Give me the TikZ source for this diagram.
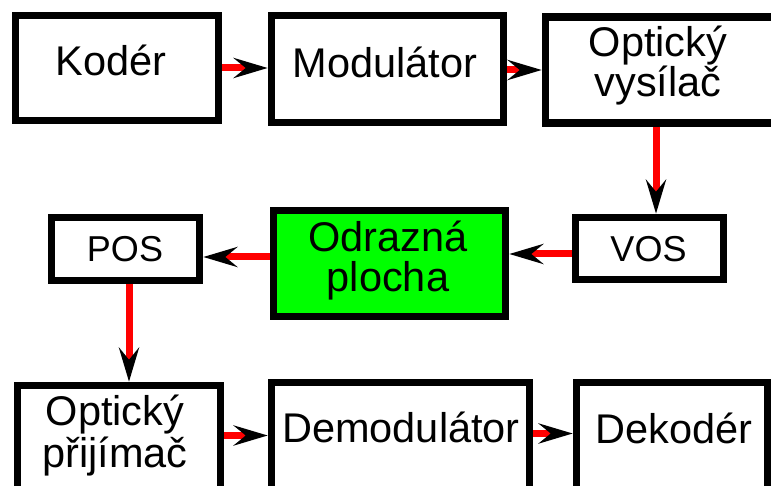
\documentclass[tikz,border=0pt]{standalone}
\usepackage{fontspec}
\setmainfont{Liberation Sans}
\usetikzlibrary{arrows.meta}
\tikzset{
  box/.style={draw=black, line width=7.5pt, inner sep=0pt, outer sep=3.75pt, fill=white},
  big/.style={font=\fontsize{41.5}{40}\selectfont, inner sep=0pt, anchor=base, align=center},
  small/.style={font=\fontsize{36}{36}\selectfont, inner sep=0pt, anchor=base},
  arr/.style={draw=red, line width=7pt, -{Stealth[length=34pt, width=20pt, inset=12pt, black]}}
}
\begin{document}
\begin{tikzpicture}[x=1pt,y=-1pt]
\useasboundingbox (0,0) rectangle (771,486);
\clip (0,0) rectangle (771,486);
\fill[white] (0,0) rectangle (771,486);
% boxes
\node[box, minimum width=203pt, minimum height=105pt] (kod) at (117,68) {};
\node[box, minimum width=232pt, minimum height=107pt] (mod) at (387.5,69) {};
\node[box, minimum width=244.5pt, minimum height=106pt] (ovys) at (667.75,70) {};
\node[box, minimum width=148pt, minimum height=62pt] (vos) at (649.5,248.5) {};
\node[box, fill={rgb,255:red,0;green,255;blue,0}, minimum width=232pt, minimum height=106pt] (odr) at (389.5,263.5) {};
\node[box, minimum width=148pt, minimum height=63pt] (pos) at (125.5,249) {};
\node[box, minimum width=203pt, minimum height=134.5pt] (oprij) at (119,452.75) {};
\node[box, minimum width=258pt, minimum height=137.5pt] (demod) at (400.5,451.25) {};
\node[box, minimum width=191.5pt, minimum height=137.5pt] (dek) at (672.25,451.25) {};
% texts
\node[big] (tkod) at (111,76) {Kodér};
\node[big] (tmod) at (385,78) {Modulátor};
\node[big] (tovys) at (658,97) {Optický\\vysílač};
\node[big] (todr) at (388,292) {Odrazná\\plocha};
\node[small] (tpos) at (125,262) {POS};
\node[small] (tvos) at (648.5,262) {VOS};
\node[big, font=\fontsize{41.5}{42}\selectfont] (toprij) at (115,467) {Optický\\přijímač};
\node[big] (tdemod) at (401,442) {Demodulátor};
\node[big] (tdek) at (674,443) {Dekodér};
% connectors
\draw[arr] (kod.east) -- (kod.east -| mod.west);
\draw[arr] ([yshift=-1pt]mod.east) -- ([yshift=-1pt]mod.east -| ovys.west);
\draw[arr] ([xshift=6.5pt]vos.north |- ovys.south) -- ([xshift=6.5pt]vos.north);
\draw[arr] ([yshift=-5.5pt]vos.west) -- ([yshift=-5.5pt]vos.west -| odr.east);
\draw[arr] ([yshift=6.5pt]odr.west) -- ([yshift=6.5pt]odr.west -| pos.east);
\draw[arr] ([xshift=3.5pt]pos.south) -- ([xshift=3.5pt]pos.south |- oprij.north);
\draw[arr] ([yshift=17.25pt]oprij.east) -- ([yshift=17.25pt]oprij.east -| demod.west);
\draw[arr] ([yshift=17.75pt]demod.east) -- ([yshift=17.75pt]demod.east -| dek.west);
\end{tikzpicture}
\end{document}
